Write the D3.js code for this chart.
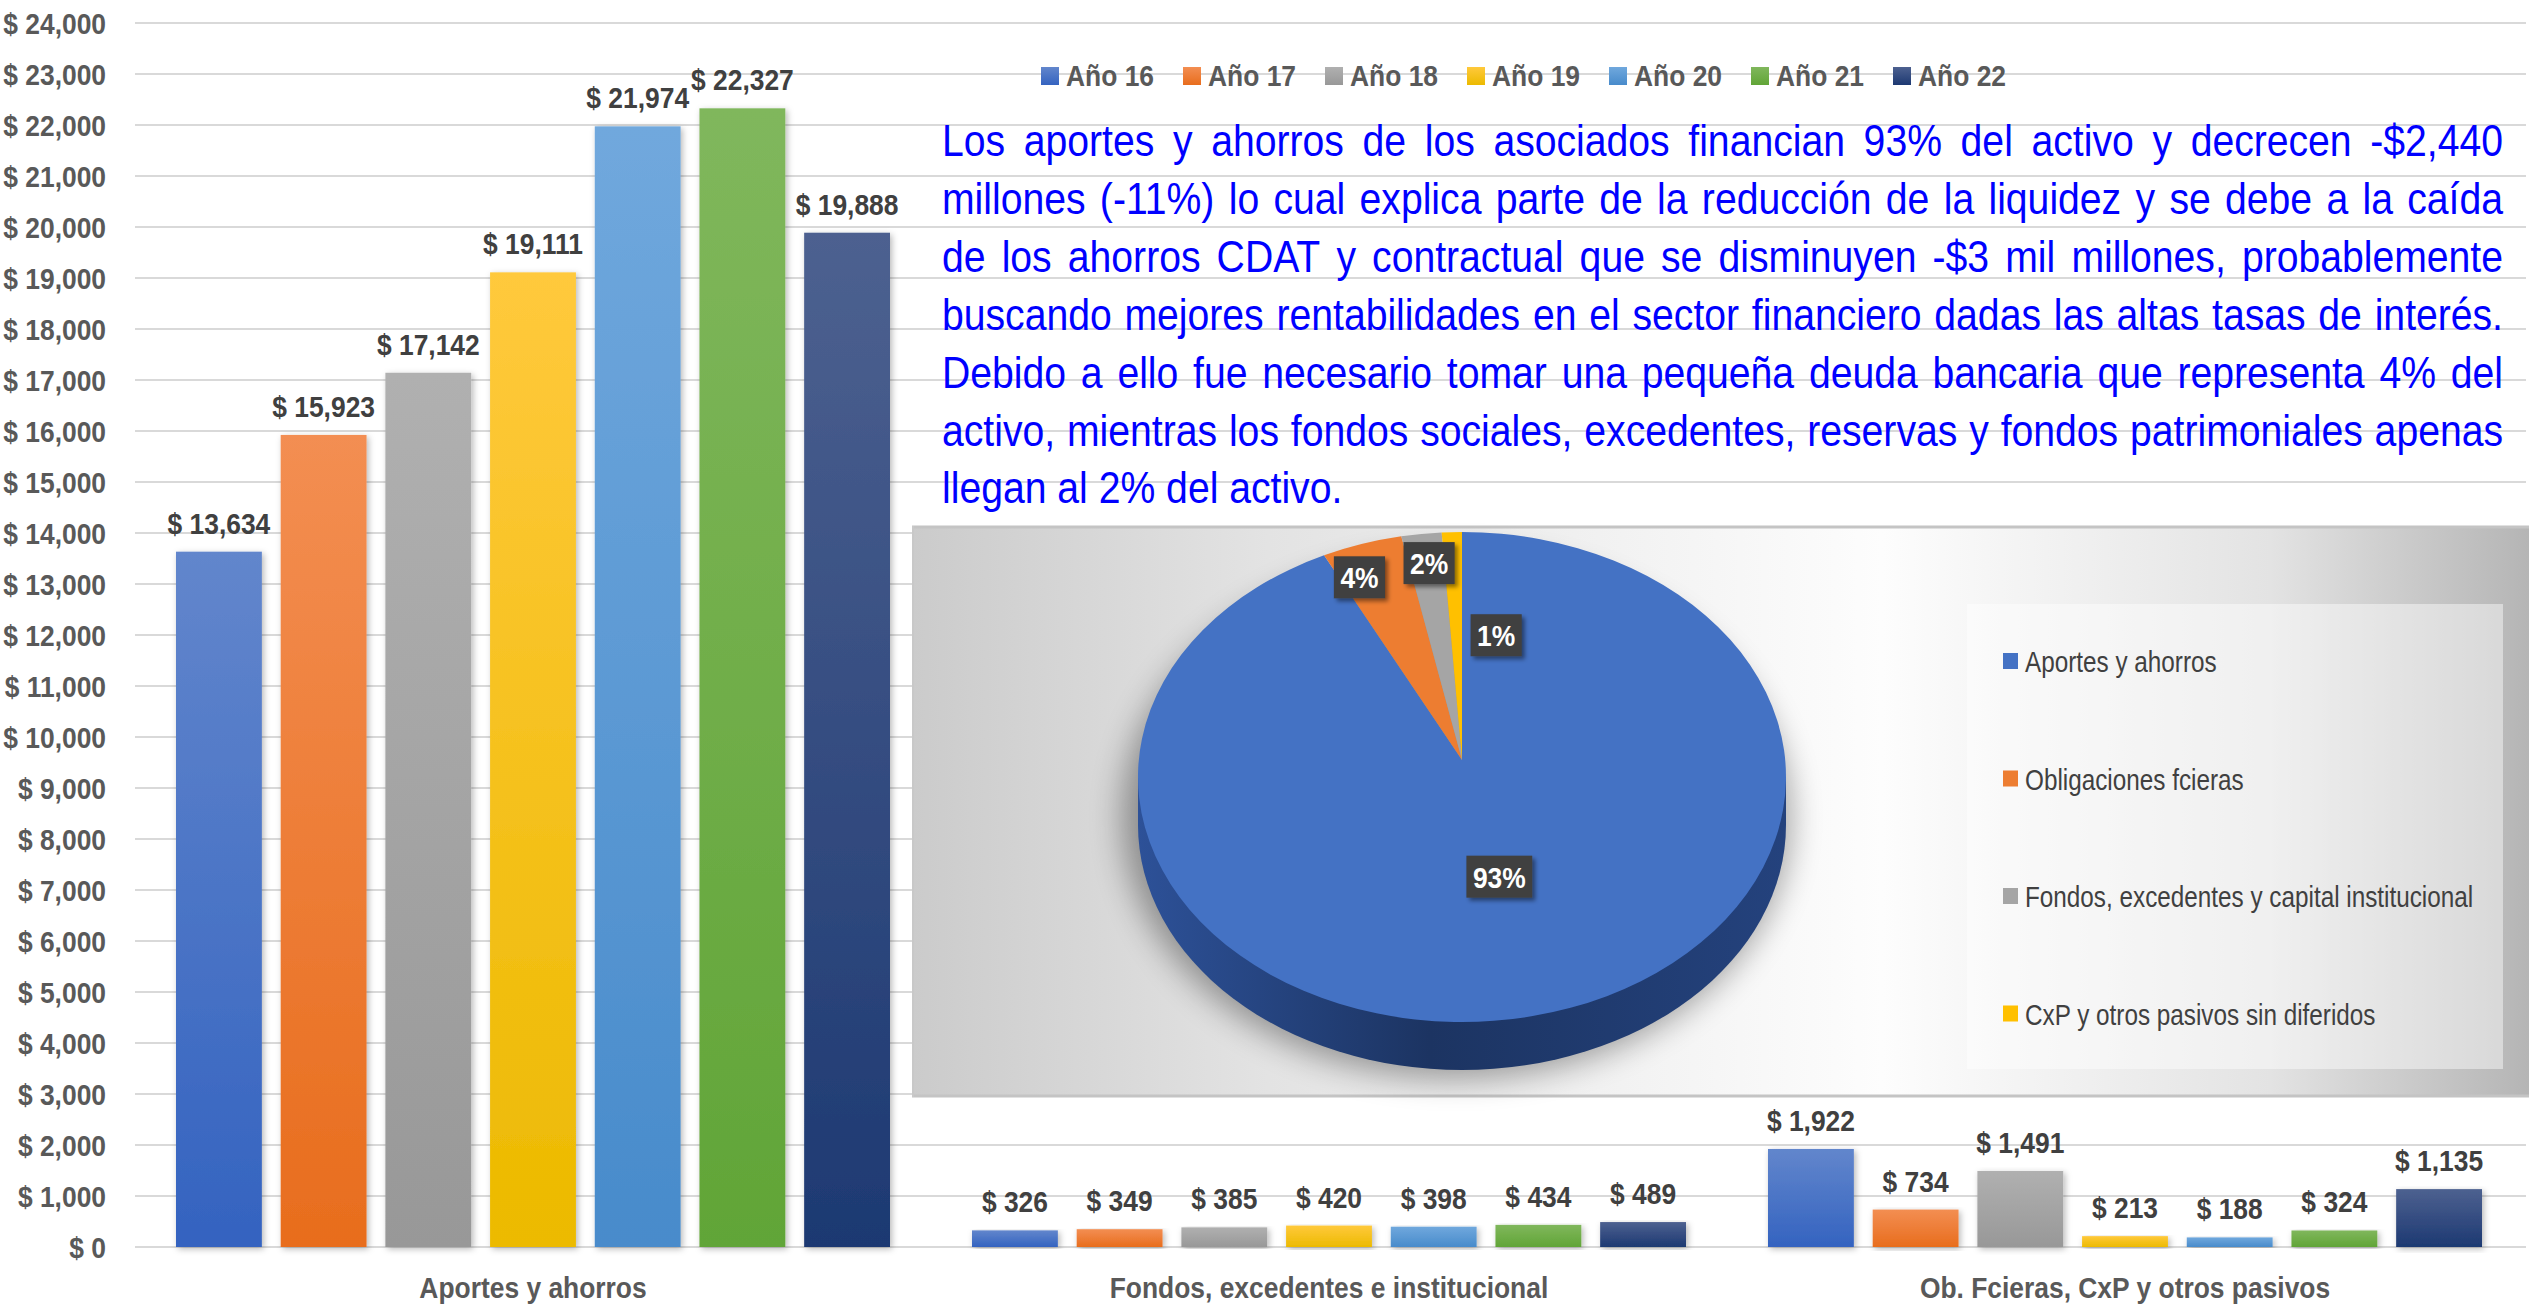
<!DOCTYPE html>
<html>
<head>
<meta charset="utf-8">
<script src="https://cdn.jsdelivr.net/npm/d3@7"></script>
<style>
  html, body { margin: 0; padding: 0; background: #ffffff; }
  svg { display: block; font-family: "Liberation Sans", Arial, sans-serif; }
</style>
</head>
<body>
<svg id="chart" width="2529" height="1306"></svg>
<script>
// ---- data ----
const categories = ["Aportes y ahorros", "Fondos, excedentes e institucional", "Ob. Fcieras, CxP y otros pasivos"];
const series = ["Año 16", "Año 17", "Año 18", "Año 19", "Año 20", "Año 21", "Año 22"];
const aportesAhorros = [13634, 15923, 17142, 19111, 21974, 22327, 19888];
const fondosExcedentes = [326, 349, 385, 420, 398, 434, 489];
const obligacionesCxP = [1922, 734, 1491, 213, 188, 324, 1135];
const yTicks = d3.range(0, 24001, 1000);

const pieCategories = ["Aportes y ahorros", "Obligaciones fcieras", "Fondos, excedentes y capital institucional", "CxP y otros pasivos sin diferidos"];
const pieShares = [93, 4, 2, 1];

const noteLines = [
  "Los aportes y ahorros de los asociados financian 93% del activo y decrecen -$2,440",
  "millones (-11%) lo cual explica parte de la reducción de la liquidez y se debe a la caída",
  "de los ahorros CDAT y contractual que se disminuyen -$3 mil millones, probablemente",
  "buscando mejores rentabilidades en el sector financiero dadas las altas tasas de interés.",
  "Debido a ello fue necesario tomar una pequeña deuda bancaria que representa 4% del",
  "activo, mientras los fondos sociales, excedentes, reservas y fondos patrimoniales apenas",
  "llegan al 2% del activo."
];

// ---- styling ----
const seriesColors = {
  "Año 16": ["#6286cc", "#3463c0"],
  "Año 17": ["#f38e52", "#e86d1d"],
  "Año 18": ["#b0b0b0", "#989898"],
  "Año 19": ["#ffc93c", "#ecba00"],
  "Año 20": ["#70a8dd", "#488bcb"],
  "Año 21": ["#80b75c", "#61a537"],
  "Año 22": ["#4d6190", "#1d3972"]
};
const pieColors = ["#4472c4", "#ed7d31", "#a5a5a5", "#ffc000"];
const AXIS_GRAY = "#595959";
const LABEL_GRAY = "#404040";
const BOLD_SX = 0.88;   // horizontal squeeze for the narrow bold face

const svg = d3.select("#chart");
const defs = svg.append("defs");

// vertical gradients for the bars
series.forEach((s, i) => {
  const g = defs.append("linearGradient").attr("id", "bar" + i)
    .attr("x1", 0).attr("y1", 0).attr("x2", 0).attr("y2", 1);
  g.append("stop").attr("offset", "0%").attr("stop-color", seriesColors[s][0]);
  g.append("stop").attr("offset", "100%").attr("stop-color", seriesColors[s][1]);
});

const barShadow = defs.append("filter").attr("id", "barShadow")
  .attr("x", "-20%").attr("y", "-5%").attr("width", "140%").attr("height", "115%");
barShadow.append("feDropShadow").attr("dx", 2).attr("dy", 2).attr("stdDeviation", 3)
  .attr("flood-color", "#000").attr("flood-opacity", 0.28);

const boxShadow = defs.append("filter").attr("id", "boxShadow")
  .attr("x", "-20%").attr("y", "-20%").attr("width", "150%").attr("height", "150%");
boxShadow.append("feDropShadow").attr("dx", 3).attr("dy", 3).attr("stdDeviation", 2)
  .attr("flood-color", "#000").attr("flood-opacity", 0.45);

const pieBlur = defs.append("filter").attr("id", "pieBlur")
  .attr("x", "-30%").attr("y", "-30%").attr("width", "160%").attr("height", "160%");
pieBlur.append("feGaussianBlur").attr("stdDeviation", 16);

const panelGrad = defs.append("linearGradient").attr("id", "panelGrad")
  .attr("x1", 0).attr("y1", 0).attr("x2", 1).attr("y2", 0);
[["0%", "#cbcbcb"], ["22%", "#e3e3e3"], ["60%", "#fdfdfd"], ["84%", "#e3e3e3"], ["100%", "#b5b5b5"]]
  .forEach(([o, c]) => panelGrad.append("stop").attr("offset", o).attr("stop-color", c));

const sideGrad = defs.append("linearGradient").attr("id", "sideGrad")
  .attr("x1", 0).attr("y1", 0).attr("x2", 1).attr("y2", 0);
[["0%", "#2d5198"], ["45%", "#1c3462"], ["100%", "#24427d"]]
  .forEach(([o, c]) => sideGrad.append("stop").attr("offset", o).attr("stop-color", c));

// text with a horizontal squeeze, for the narrow typeface look
function ctext(parent, x, y, str, o) {
  return parent.append("text")
    .attr("transform", `translate(${x},${y}) scale(${o.sx},1)`)
    .attr("text-anchor", o.anchor || "start")
    .attr("font-size", o.size)
    .attr("font-weight", o.weight || "normal")
    .attr("fill", o.fill)
    .text(str);
}

// ---- scales ----
const x0 = d3.scaleBand().domain(categories).range([135, 2523]).padding(0);
const x1 = d3.scaleBand().domain(series).range([41, x0.bandwidth() - 41]).paddingInner(0.18);
const y = d3.scaleLinear().domain([0, 24000]).range([1247, 23]);
const money = v => "$ " + d3.format(",")(v);

// ---- gridlines and value axis ----
const grid = svg.append("g");
grid.selectAll("line").data(yTicks).join("line")
  .attr("x1", 135).attr("x2", 2526)
  .attr("y1", d => y(d)).attr("y2", d => y(d))
  .attr("stroke", "#d9d9d9").attr("stroke-width", 2);

const yAxis = svg.append("g");
yTicks.forEach(t => ctext(yAxis, 106, y(t) + 10.5, money(t),
  { size: 30, weight: "bold", fill: AXIS_GRAY, anchor: "end", sx: BOLD_SX }));

// ---- bars ----
const rows = categories.map((c, ci) => ({
  category: c,
  values: [aportesAhorros, fondosExcedentes, obligacionesCxP][ci]
}));

function drawGroup(row) {
  const g = svg.append("g").attr("transform", `translate(${x0(row.category)},0)`);
  const items = row.values.map((v, i) => ({ s: series[i], i, v }));
  g.selectAll("rect").data(items).join("rect")
    .attr("x", d => x1(d.s)).attr("width", x1.bandwidth())
    .attr("y", d => y(d.v)).attr("height", d => y(0) - y(d.v))
    .attr("fill", d => `url(#bar${d.i})`)
    .attr("filter", "url(#barShadow)");
  items.forEach(d => ctext(g, x1(d.s) + x1.bandwidth() / 2, y(d.v) - 18, money(d.v),
    { size: 30, weight: "bold", fill: LABEL_GRAY, anchor: "middle", sx: BOLD_SX }));
}
drawGroup(rows[0]);

// ---- commentary text, justified ----
const note = svg.append("g");
const NOTE_LEFT = 942, NOTE_RIGHT = 2503, NOTE_SIZE = 45, NOTE_SX = 0.87;
noteLines.forEach((line, li) => {
  const baseY = 156 + li * 57.9;
  const words = line.split(" ");
  const nodes = words.map(w => ctext(note, 0, baseY, w,
    { size: NOTE_SIZE, fill: "#0000ff", sx: NOTE_SX }));
  const widths = nodes.map(n => n.node().getComputedTextLength() * NOTE_SX);
  const total = d3.sum(widths);
  const last = li === noteLines.length - 1;
  const gap = last ? NOTE_SIZE * 0.278 * NOTE_SX : (NOTE_RIGHT - NOTE_LEFT - total) / (words.length - 1);
  let cx = NOTE_LEFT;
  nodes.forEach((n, i) => {
    n.attr("transform", `translate(${cx},${baseY}) scale(${NOTE_SX},1)`);
    cx += widths[i] + gap;
  });
});

// ---- pie panel ----
const panel = svg.append("g");
panel.append("rect").attr("x", 912).attr("y", 526).attr("width", 1617).attr("height", 571)
  .attr("fill", "url(#panelGrad)");
panel.append("line").attr("x1", 912).attr("x2", 2529).attr("y1", 527).attr("y2", 527)
  .attr("stroke", "#c4c4c4").attr("stroke-width", 3);
panel.append("line").attr("x1", 912).attr("x2", 2529).attr("y1", 1096).attr("y2", 1096)
  .attr("stroke", "#c4c4c4").attr("stroke-width", 3);
panel.append("line").attr("x1", 913).attr("x2", 913).attr("y1", 526).attr("y2", 1097)
  .attr("stroke", "#c8c8c8").attr("stroke-width", 2);

// tilted pie: elliptical top face, vertical rim, soft shadow underneath
const PCX = 1462, PCY = 777, PRX = 324, PRY = 245, DEPTH = 48;
const apex = [1462, 760];
panel.append("ellipse").attr("cx", PCX - 6).attr("cy", PCY + 40).attr("rx", PRX + 10).attr("ry", PRY + 16)
  .attr("fill", "#000").attr("opacity", 0.36).attr("filter", "url(#pieBlur)");

panel.append("path")
  .attr("d", `M${PCX - PRX},${PCY} L${PCX - PRX},${PCY + DEPTH} A${PRX},${PRY} 0 0 0 ${PCX + PRX},${PCY + DEPTH} L${PCX + PRX},${PCY} Z`)
  .attr("fill", "url(#sideGrad)");

const pieGen = d3.pie().sort(null).startAngle(0).endAngle(2 * Math.PI);
const arcs = pieGen(pieShares);
const edge = a => [PCX + PRX * Math.sin(a), PCY - PRY * Math.cos(a)];
panel.selectAll("path.slice").data(arcs).join("path").attr("class", "slice")
  .attr("d", d => {
    const p0 = edge(d.startAngle), p1 = edge(d.endAngle);
    const large = d.endAngle - d.startAngle > Math.PI ? 1 : 0;
    return `M${apex[0]},${apex[1]} L${p0[0]},${p0[1]} A${PRX},${PRY} 0 ${large} 1 ${p1[0]},${p1[1]} Z`;
  })
  .attr("fill", (d, i) => pieColors[i]);

// percentage labels; the two thin slices get nudged apart so the boxes don't collide
const labelPlace = [
  { r: 0.49, da: -1 },
  { r: 0.81, da: -5 },
  { r: 0.81, da: 0 },
  { r: 0.52, da: 13.5 }
];
arcs.forEach((d, i) => {
  const mid = (d.startAngle + d.endAngle) / 2 + labelPlace[i].da * Math.PI / 180;
  const lx = apex[0] + labelPlace[i].r * PRX * Math.sin(mid);
  const ly = apex[1] - labelPlace[i].r * PRY * Math.cos(mid);
  const g = panel.append("g");
  const t = ctext(g, lx, ly + 11, d3.format(".0f")(d.value) + "%",
    { size: 30, weight: "bold", fill: "#ffffff", anchor: "middle", sx: BOLD_SX });
  const w = t.node().getComputedTextLength() * BOLD_SX + 13;
  g.insert("rect", "text").attr("x", lx - w / 2).attr("y", ly - 21).attr("width", w).attr("height", 42)
    .attr("fill", "#3f3f3f").attr("filter", "url(#boxShadow)");
});

// pie legend
const pieLegend = panel.append("g");
pieLegend.append("rect").attr("x", 1967).attr("y", 604).attr("width", 536).attr("height", 465)
  .attr("fill", "#ffffff").attr("opacity", 0.45);
pieCategories.forEach((c, i) => {
  const cy = 661 + i * 117.5;
  pieLegend.append("rect").attr("x", 2003).attr("y", cy - 8).attr("width", 15).attr("height", 16)
    .attr("fill", pieColors[i]);
  ctext(pieLegend, 2025, cy + 11, c, { size: 30, fill: LABEL_GRAY, sx: 0.81 });
});

// remaining bar groups sit below the panel
drawGroup(rows[1]);
drawGroup(rows[2]);

// ---- category axis labels ----
categories.forEach(c => ctext(svg, x0(c) + x0.bandwidth() / 2, 1298, c,
  { size: 30, weight: "bold", fill: AXIS_GRAY, anchor: "middle", sx: BOLD_SX }));

// ---- series legend ----
const legend = svg.append("g");
series.forEach((s, i) => {
  const lx = 1041 + i * 142;
  legend.append("rect").attr("x", lx).attr("y", 67).attr("width", 18).attr("height", 18)
    .attr("fill", `url(#bar${i})`);
  ctext(legend, lx + 25, 86, s, { size: 30, weight: "bold", fill: AXIS_GRAY, sx: BOLD_SX });
});
</script>
</body>
</html>
